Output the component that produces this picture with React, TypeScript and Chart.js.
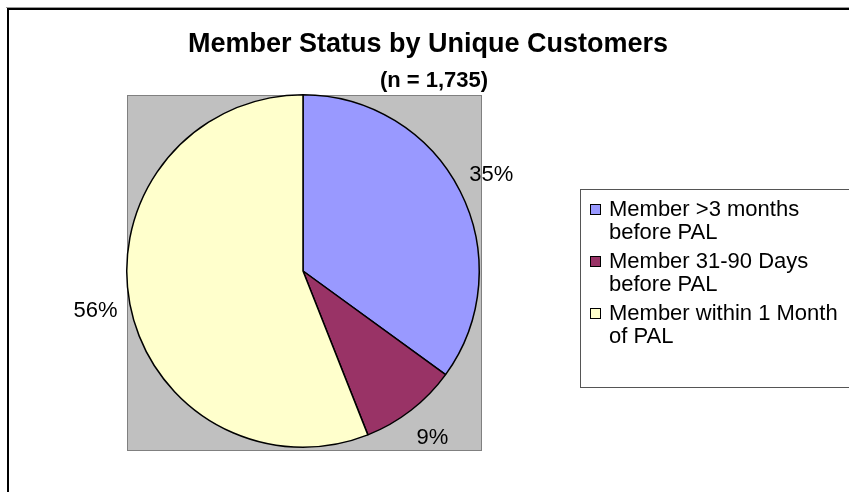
import React, { useEffect, useRef } from "react";
import { Chart, registerables } from "chart.js";

Chart.register(...registerables);

// ---- data ----
const categories = ["Member >3 months before PAL", "Member 31-90 Days before PAL", "Member within 1 Month of PAL"];
const legendLines = [
  ["Member >3 months", "before PAL"],
  ["Member 31-90 Days", "before PAL"],
  ["Member within 1 Month", "of PAL"],
];
const percentages = [35, 9, 56];
const sliceColors = ["#9999FF", "#993366", "#FFFFCC"];
const titleText = "Member Status by Unique Customers";
const subtitleText = "(n = 1,735)";

const FONT = "'Liberation Sans', Arial, Helvetica, sans-serif";

const decorPlugin = {
  id: "decor",
  beforeDraw(chart: any) {
    const ctx = chart.ctx;
    const W = chart.width;
    const H = chart.height;
    ctx.save();
    ctx.fillStyle = "#ffffff";
    ctx.fillRect(0, 0, W, H);
    // outer chart border (top & left visible)
    ctx.fillStyle = "#9a9a9a";
    ctx.fillRect(6, 7, W - 6, 1);
    ctx.fillStyle = "#000000";
    ctx.fillRect(7, 8, W - 7, 2);
    ctx.fillRect(7, 8, 2, H - 8);
    // plot area (gray box)
    const ca = chart.chartArea;
    const meta = chart.getDatasetMeta(0);
    const arc = meta.data[0];
    const cx = arc ? arc.x : (ca.left + ca.right) / 2;
    const cy = arc ? arc.y : (ca.top + ca.bottom) / 2;
    const r = arc ? arc.outerRadius : 177;
    const left = Math.round(cx - r) + 0.5;
    const top = Math.round(cy - r) + 0.5;
    const w = Math.round(2 * r) + 1;
    const h = Math.round(2 * r) + 2;
    ctx.fillStyle = "#C0C0C0";
    ctx.fillRect(left, top, w, h);
    ctx.strokeStyle = "#808080";
    ctx.lineWidth = 1;
    ctx.strokeRect(left, top, w, h);
    ctx.restore();
  },
  afterDatasetsDraw(chart: any) {
    const ctx = chart.ctx;
    const meta = chart.getDatasetMeta(0);
    const data = chart.data.datasets[0].data;
    ctx.save();
    ctx.fillStyle = "#000000";
    ctx.font = `22px ${FONT}`;
    ctx.textAlign = "center";
    ctx.textBaseline = "middle";
    meta.data.forEach((el: any, i: number) => {
      const mid = (el.startAngle + el.endAngle) / 2;
      const R = el.outerRadius + 35;
      const x = el.x + Math.cos(mid) * R;
      const y = el.y + Math.sin(mid) * R;
      ctx.fillText(`${Math.round(data[i])}%`, x, y);
    });
    ctx.restore();
  },
  afterDraw(chart: any) {
    const ctx = chart.ctx;
    ctx.save();
    ctx.fillStyle = "#000000";
    ctx.textAlign = "center";
    ctx.textBaseline = "middle";
    ctx.font = `bold 27px ${FONT}`;
    ctx.fillText(titleText, 428, 45);
    ctx.font = `bold 22px ${FONT}`;
    ctx.fillText(subtitleText, 434, 81);

    // legend
    const lx = 580.5;
    const ly = 189.5;
    ctx.strokeStyle = "#555555";
    ctx.lineWidth = 1;
    ctx.strokeRect(lx, ly, 400, 198);
    ctx.font = `22px ${FONT}`;
    ctx.textAlign = "left";
    const colors = chart.data.datasets[0].backgroundColor;
    legendLines.forEach((lines, i) => {
      const y0 = 210 + i * 52;
      ctx.fillStyle = colors[i];
      ctx.fillRect(590.5, y0 - 5.5, 10, 10);
      ctx.strokeStyle = "#000000";
      ctx.strokeRect(590.5, y0 - 5.5, 10, 10);
      ctx.fillStyle = "#000000";
      lines.forEach((t, j) => {
        ctx.fillText(t, 609, y0 + j * 23);
      });
    });
    ctx.restore();
  },
};

export default function App() {
  const ref = useRef<HTMLCanvasElement | null>(null);
  useEffect(() => {
    if (!ref.current) return;
    const chart = new Chart(ref.current, {
      type: "pie",
      data: {
        labels: categories,
        datasets: [
          {
            data: percentages,
            backgroundColor: sliceColors,
            borderColor: "#000000",
            borderWidth: 1.5,
          },
        ],
      },
      options: {
        responsive: false,
        animation: false,
        devicePixelRatio: 1,
        layout: { padding: { left: 126, top: 94, right: 369, bottom: 44 } },
        plugins: {
          legend: { display: false },
          title: { display: false },
          tooltip: { enabled: false },
        },
      },
      plugins: [decorPlugin],
    });
    return () => chart.destroy();
  }, []);
  return (
    <div style={{ position: "absolute", left: 0, top: 0, width: 849, height: 492 }}>
      <canvas ref={ref} width={849} height={492} style={{ display: "block" }} />
    </div>
  );
}
